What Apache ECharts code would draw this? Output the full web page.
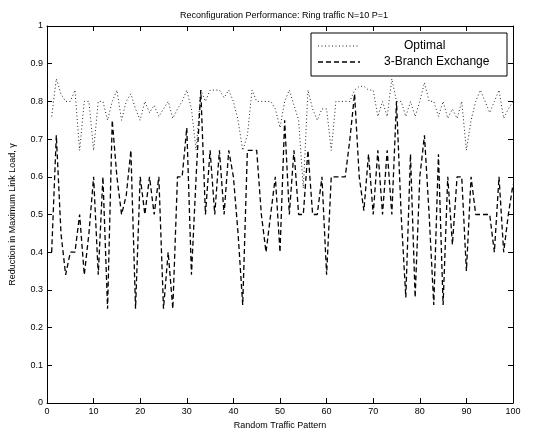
<!DOCTYPE html>
<html>
<head>
<meta charset="utf-8">
<script src="https://cdn.jsdelivr.net/npm/echarts@6/dist/echarts.min.js"></script>
<style>
html,body{margin:0;padding:0;background:#fff;}
#chart{width:542px;height:435px;}
</style>
</head>
<body>
<div id="chart"></div>
<script>
// ---- data ----
const titleText = "Reconfiguration Performance: Ring traffic N=10 P=1";
const xAxisTitle = "Random Traffic Pattern";
const yAxisTitle = "Reduction in Maximum Link Load, \u03b3";
const seriesNames = ["Optimal", "3-Branch Exchange"];
const xTicks = [0, 10, 20, 30, 40, 50, 60, 70, 80, 90, 100];
const yTicks = [0, 0.1, 0.2, 0.3, 0.4, 0.5, 0.6, 0.7, 0.8, 0.9, 1];

const optimal = [
  0.76, 0.86, 0.82, 0.80, 0.80, 0.83, 0.67, 0.80, 0.80, 0.67,
  0.80, 0.80, 0.75, 0.80, 0.83, 0.75, 0.80, 0.82, 0.78, 0.75,
  0.80, 0.77, 0.79, 0.76, 0.78, 0.80, 0.755, 0.78, 0.80, 0.83,
  0.78, 0.67, 0.83, 0.80, 0.83, 0.83, 0.83, 0.81, 0.83, 0.80,
  0.75, 0.67, 0.71, 0.83, 0.80, 0.80, 0.80, 0.80, 0.78, 0.73,
  0.80, 0.83, 0.79, 0.75, 0.57, 0.83, 0.78, 0.75, 0.78, 0.78,
  0.67, 0.80, 0.80, 0.80, 0.80, 0.83, 0.84, 0.84, 0.83, 0.83,
  0.76, 0.80, 0.76, 0.86, 0.80, 0.80, 0.76, 0.80, 0.76, 0.80,
  0.85, 0.80, 0.80, 0.76, 0.80, 0.755, 0.78, 0.755, 0.80, 0.67,
  0.75, 0.80, 0.83, 0.80, 0.77, 0.80, 0.83, 0.755, 0.78, 0.80
];
const branch = [
  0.40, 0.71, 0.45, 0.34, 0.40, 0.40, 0.50, 0.34, 0.45, 0.60,
  0.34, 0.60, 0.25, 0.75, 0.60, 0.50, 0.55, 0.67, 0.25, 0.60,
  0.50, 0.60, 0.50, 0.60, 0.25, 0.40, 0.25, 0.60, 0.60, 0.73,
  0.34, 0.60, 0.83, 0.50, 0.67, 0.50, 0.67, 0.50, 0.67, 0.60,
  0.45, 0.26, 0.67, 0.67, 0.67, 0.50, 0.40, 0.50, 0.60, 0.40,
  0.75, 0.50, 0.67, 0.50, 0.50, 0.67, 0.50, 0.50, 0.60, 0.34,
  0.60, 0.60, 0.60, 0.60, 0.70, 0.82, 0.60, 0.51, 0.66, 0.50,
  0.67, 0.50, 0.67, 0.50, 0.80, 0.50, 0.28, 0.66, 0.28, 0.60,
  0.71, 0.50, 0.26, 0.66, 0.26, 0.60, 0.42, 0.60, 0.60, 0.35,
  0.60, 0.50, 0.50, 0.50, 0.50, 0.40, 0.60, 0.40, 0.50, 0.58
];
const patternIndex = optimal.map((_, i) => i + 1);

// ---- chart ----
const FONT = "Liberation Sans, Arial, Helvetica, sans-serif";
const chart = echarts.init(document.getElementById('chart'), null, {renderer: 'canvas'});

function makeAxis(extra) {
  return Object.assign({
    axisLine: {show: true, onZero: false, lineStyle: {color: '#000', width: 1}},
    axisTick: {show: true, inside: true, length: 5, lineStyle: {color: '#000', width: 1}},
    splitLine: {show: false}
  }, extra);
}

const option = {
  backgroundColor: '#fff',
  animation: false,
  title: {
    text: titleText,
    left: 279, top: 6, textAlign: 'center',
    textStyle: {fontFamily: FONT, fontSize: 9, fontWeight: 'normal', color: '#000'}
  },
  grid: {left: 45, right: 29, top: 26, bottom: 25, containLabel: false},
  xAxis: [
    makeAxis({
      type: 'value', position: 'bottom', min: xTicks[0], max: xTicks[xTicks.length - 1], interval: 10,
      name: xAxisTitle, nameLocation: 'middle', nameGap: 18,
      nameTextStyle: {fontFamily: FONT, fontSize: 9, color: '#000'},
      axisLabel: {fontFamily: FONT, fontSize: 9, color: '#000', margin: 4}
    }),
    makeAxis({
      type: 'value', position: 'top', min: xTicks[0], max: xTicks[xTicks.length - 1], interval: 10,
      axisLabel: {show: false}
    })
  ],
  yAxis: [
    makeAxis({
      type: 'value', position: 'left', min: yTicks[0], max: yTicks[yTicks.length - 1], interval: 0.1,
      name: yAxisTitle, nameLocation: 'middle', nameGap: 30, nameRotate: 90,
      nameTextStyle: {fontFamily: FONT, fontSize: 9, color: '#000'},
      axisLabel: {fontFamily: FONT, fontSize: 9, color: '#000', margin: 4,
        formatter: v => String(Math.round(v * 10) / 10)}
    }),
    makeAxis({
      type: 'value', position: 'right', min: yTicks[0], max: yTicks[yTicks.length - 1], interval: 0.1,
      axisLabel: {show: false}
    })
  ],
  series: [
    {
      name: seriesNames[0], type: 'line', xAxisIndex: 0, yAxisIndex: 0,
      data: patternIndex.map((x, i) => [x, optimal[i]]),
      showSymbol: false, symbol: 'none',
      lineStyle: {color: '#222', width: 1, type: [1, 2.5]}
    },
    {
      name: seriesNames[1], type: 'line', xAxisIndex: 0, yAxisIndex: 0,
      data: patternIndex.map((x, i) => [x, branch[i]]),
      showSymbol: false, symbol: 'none',
      lineStyle: {color: '#000', width: 1.3, type: [5, 3]}
    }
  ],
  graphic: [
    {type: 'rect', shape: {x: 311, y: 33, width: 196, height: 43},
     style: {fill: '#fff', stroke: '#000', lineWidth: 1}, z: 100},
    {type: 'line', shape: {x1: 318, y1: 46, x2: 360, y2: 46},
     style: {stroke: '#222', lineWidth: 1, lineDash: [1, 2.5]}, z: 101},
    {type: 'line', shape: {x1: 318, y1: 62, x2: 360, y2: 62},
     style: {stroke: '#000', lineWidth: 1.3, lineDash: [5, 3]}, z: 101},
    {type: 'text', x: 404, y: 46, z: 101,
     style: {text: seriesNames[0], font: '12px ' + FONT, fill: '#000', verticalAlign: 'middle'}},
    {type: 'text', x: 384, y: 62, z: 101,
     style: {text: seriesNames[1], font: '12px ' + FONT, fill: '#000', verticalAlign: 'middle'}}
  ]
};
chart.setOption(option);
</script>
</body>
</html>
